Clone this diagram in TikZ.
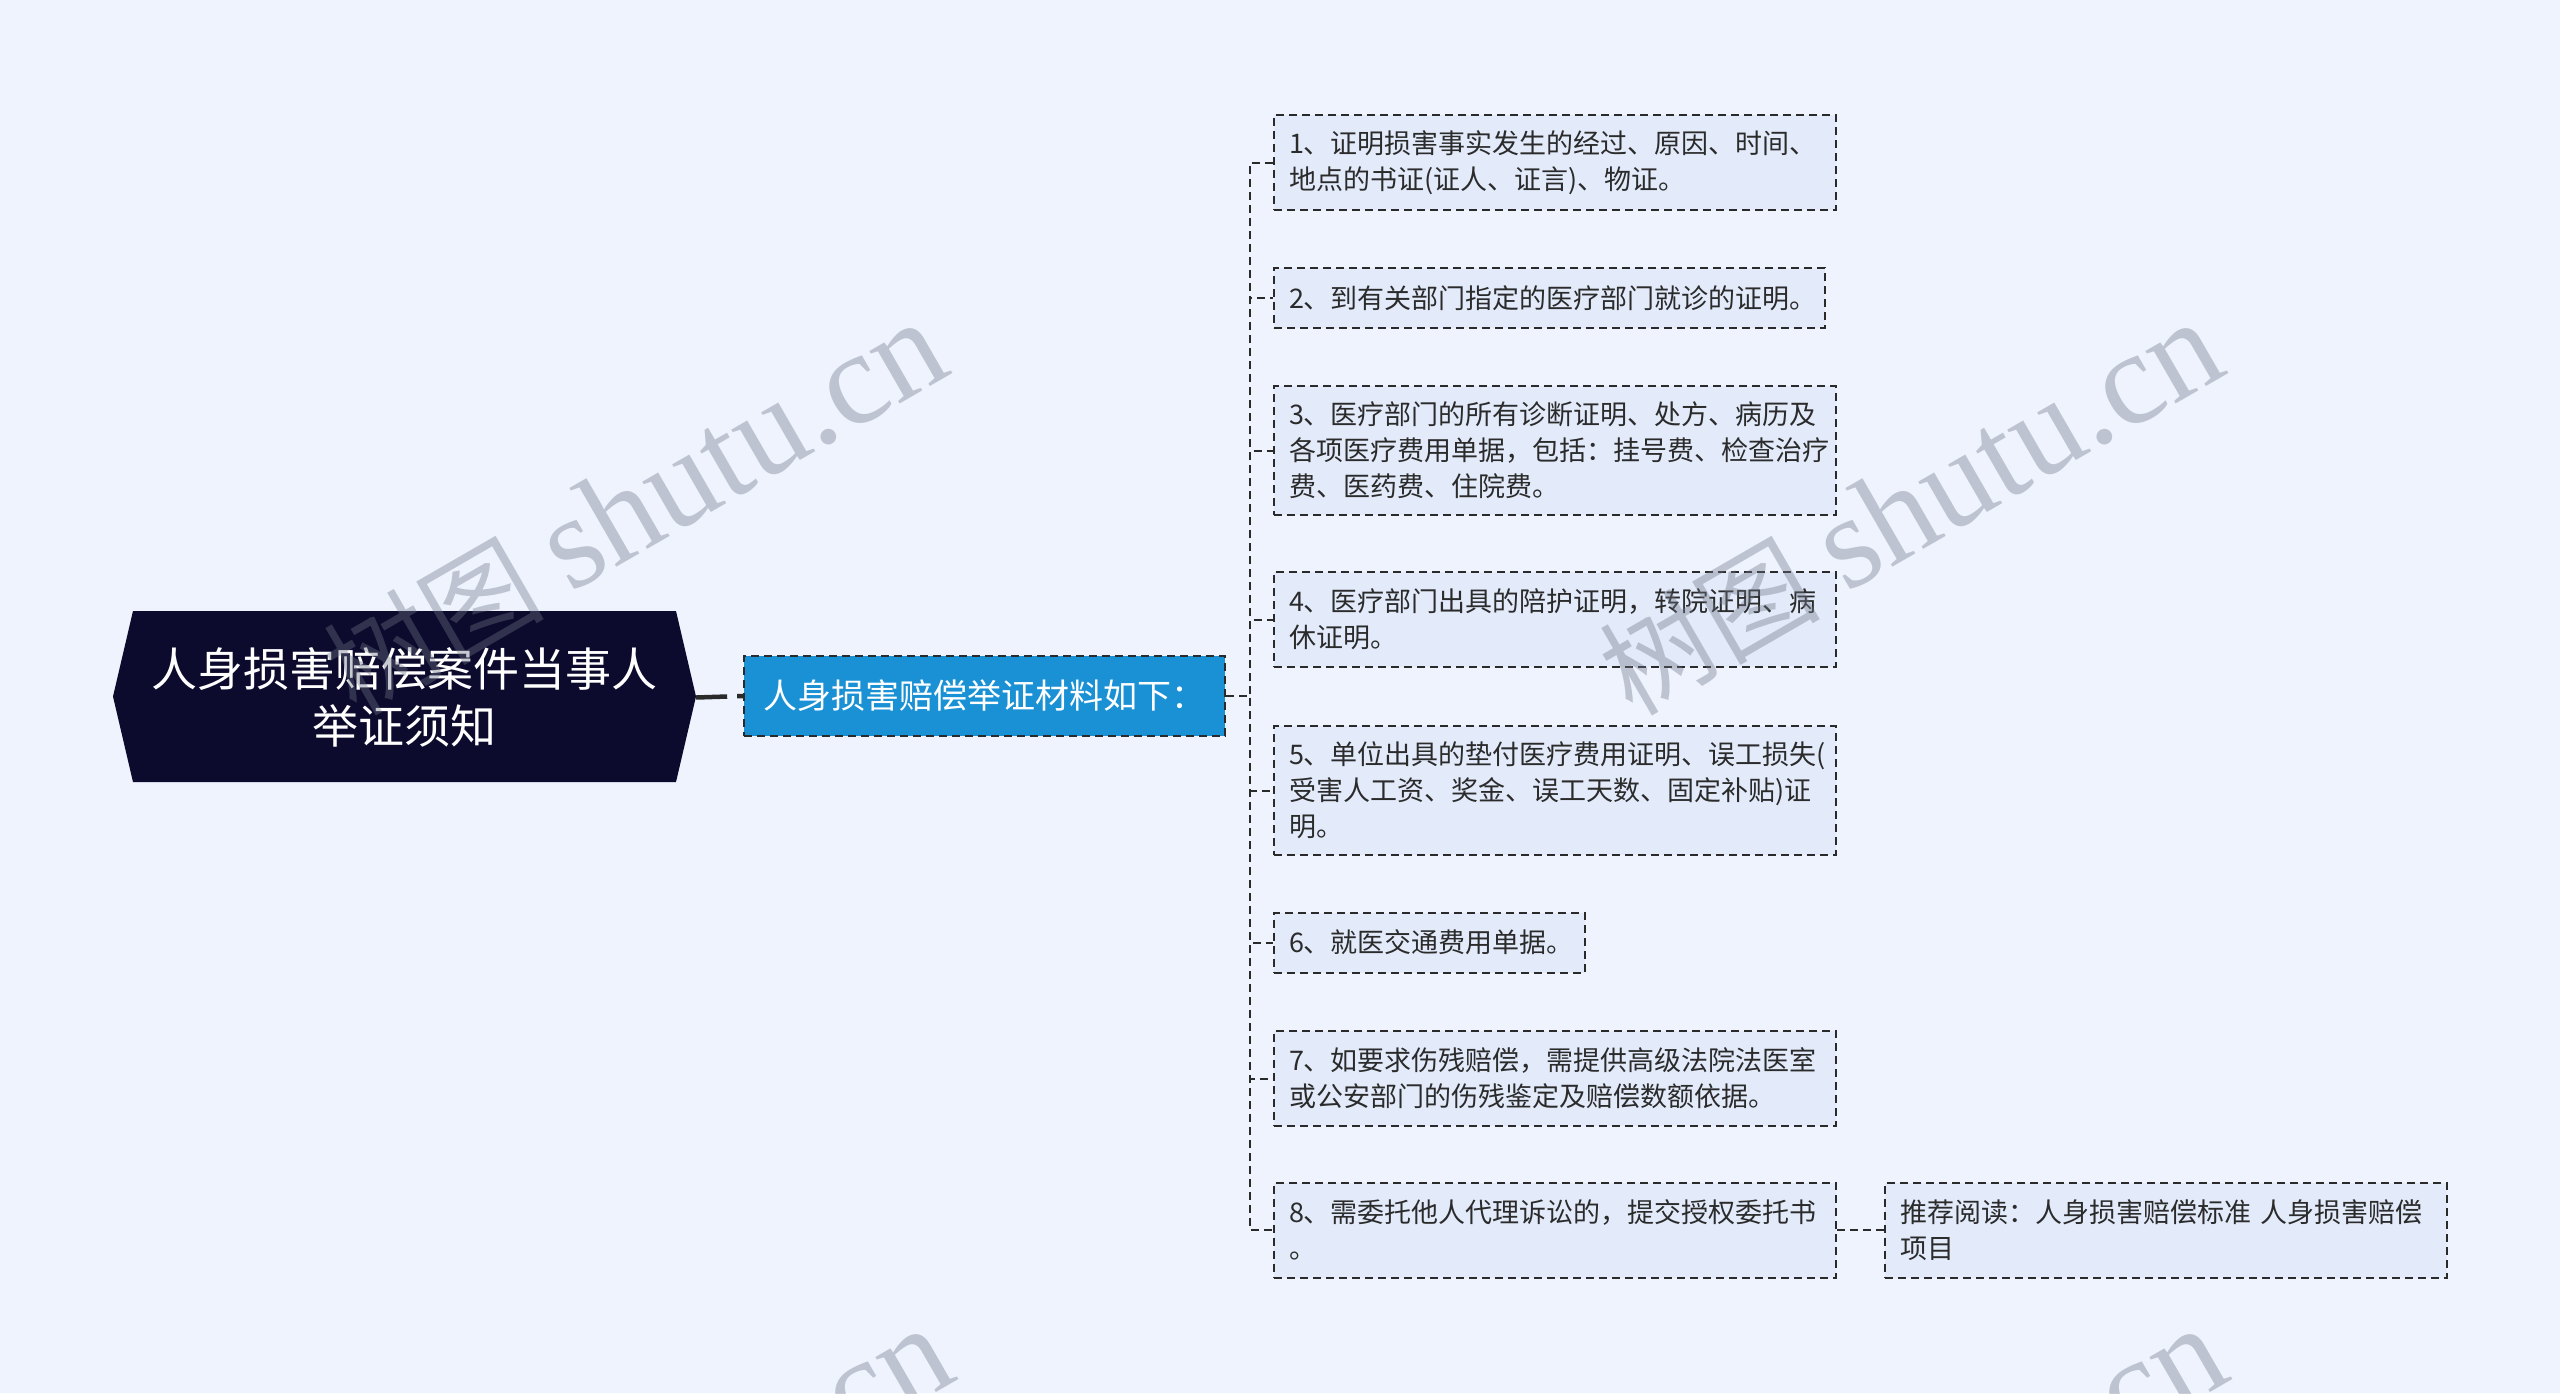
\documentclass[tikz,border=0pt]{standalone}
\usepackage{fontspec}
\newfontfamily\cjk{Noto Sans CJK SC}
\newfontfamily\wmserif{Liberation Serif}
\definecolor{bgc}{HTML}{EEF3FE}
\definecolor{leaff}{HTML}{E3EBFB}
\definecolor{linec}{HTML}{2A2A2A}
\definecolor{bluef}{HTML}{1A91D5}
\definecolor{rootf}{HTML}{0C0A2D}
\definecolor{txt}{HTML}{2B2B2B}
\definecolor{wmc}{HTML}{6E7586}
\tikzset{
  leaf/.style={draw=linec, line width=2pt, dash pattern=on 8pt off 5pt, fill=leaff, text=txt,
    font=\cjk\fontsize{27}{36}\selectfont, align=left, inner xsep=15pt, inner ysep=0pt, anchor=west},
  conn/.style={draw=linec, line width=2pt, dash pattern=on 8pt off 5pt},
  rootconn/.style={draw=linec, line width=4.5pt, dash pattern=on 31pt off 10pt},
  wmlatin/.style={text=wmc, text opacity=0.38, font=\wmserif\fontsize{132}{132}\selectfont, inner sep=0pt, transform shape},
  wmcjk/.style={text=wmc, text opacity=0.38, font=\cjk\fontsize{110}{110}\selectfont, inner sep=0pt, transform shape}
}
\begin{document}
\begin{tikzpicture}[x=1pt,y=-1pt]
\useasboundingbox (0,0) rectangle (2560,1393);
\fill[bgc] (0,0) rectangle (2560,1393);

% root
\fill[rootf] (113,696.5) -- (133,611) -- (676,611) -- (696,696.5) -- (676,782) -- (133,782) -- cycle;
\node[text=white, font=\cjk\fontsize{46}{57}\selectfont, align=center, minimum width=583pt, minimum height=171pt, inner sep=0pt] (root) at (404.5,697.5) {人身损害赔偿案件当事人\\举证须知};

% middle
\node[draw=linec, line width=2pt, dash pattern=on 8pt off 5pt, fill=bluef, text=white, font=\cjk\fontsize{34}{40}\selectfont, minimum width=481pt, minimum height=80pt, inner sep=0pt] (mat) at (984.5,696) {人身损害赔偿举证材料如下：};

% leaves
\node[leaf, text width=532pt, minimum height=95pt] (l1) at (1273,162.5) {1、证明损害事实发生的经过、原因、时间、\\地点的书证(证人、证言)、物证。};
\node[leaf, text width=521pt, minimum height=60pt] (l2) at (1273,298) {2、到有关部门指定的医疗部门就诊的证明。};
\node[leaf, text width=532pt, minimum height=129pt] (l3) at (1273,450.5) {3、医疗部门的所有诊断证明、处方、病历及\\各项医疗费用单据，包括：挂号费、检查治疗\\费、医药费、住院费。};
\node[leaf, text width=532pt, minimum height=95pt] (l4) at (1273,619.5) {4、医疗部门出具的陪护证明，转院证明、病\\休证明。};
\node[leaf, text width=532pt, minimum height=129pt] (l5) at (1273,790.5) {5、单位出具的垫付医疗费用证明、误工损失(\\受害人工资、奖金、误工天数、固定补贴)证\\明。};
\node[leaf, text width=281pt, minimum height=60pt] (l6) at (1273,942.5) {6、就医交通费用单据。};
\node[leaf, text width=532pt, minimum height=95pt] (l7) at (1273,1078.5) {7、如要求伤残赔偿，需提供高级法院法医室\\或公安部门的伤残鉴定及赔偿数额依据。};
\node[leaf, text width=532pt, minimum height=95pt] (l8) at (1273,1230) {8、需委托他人代理诉讼的，提交授权委托书\\。};
\node[leaf, text width=532pt, minimum height=95pt] (rec) at (1884,1230) {推荐阅读：人身损害赔偿标准 人身损害赔偿\\项目};

% connectors
\draw[rootconn] (root.east) -- (mat.west);
\foreach \n in {l1,l2,l3,l4,l5,l6,l7,l8}{
  \draw[conn] (mat.east) -- ++(24,0) |- (\n.west);
}
\draw[conn] (l8.east) -- (rec.west);

% watermarks
\begin{scope}
\clip (0,0) rectangle (2560,1393);
\foreach \px/\py [count=\i] in {570/594, 1846/594, 576/1600, 1850/1600}{
  \begin{scope}[shift={(\px,\py)}, rotate=30]
    \node[wmlatin, anchor=base west] (wa\i) at (0,0) {shutu.cn};
    \node[wmcjk, anchor=base east] (wb\i) at (-26,0) {树图};
  \end{scope}
}
\end{scope}
\end{tikzpicture}
\end{document}
